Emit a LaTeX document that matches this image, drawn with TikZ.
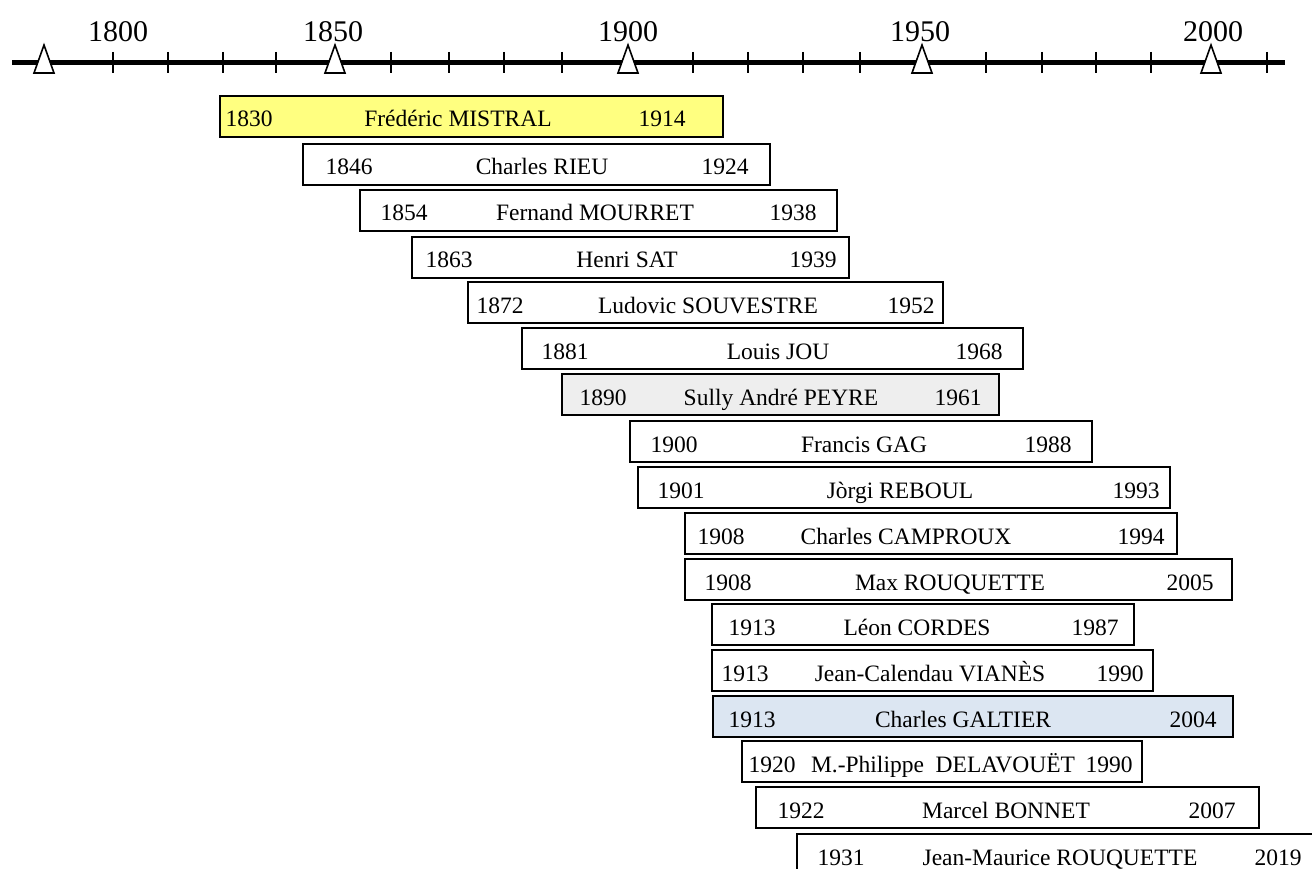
\documentclass[tikz,border=0pt]{standalone}
\usepackage{fontspec}
\setmainfont{Liberation Serif}
\definecolor{mistralyellow}{HTML}{FFFF80}
\definecolor{peyregray}{HTML}{EEEEEE}
\definecolor{galtierblue}{HTML}{DCE6F2}
\tikzset{
  lifebox/.style={draw=black, line width=1.1pt},
  lifetext/.style={anchor=base, inner sep=0pt, font=\fontsize{23.5}{28}\selectfont},
  yeartext/.style={anchor=base, inner sep=0pt, font=\fontsize{30}{36}\selectfont},
  axisline/.style={line width=5pt},
  tickmark/.style={line width=1.8pt},
  era/.style={draw=black, fill=white, line width=1.6pt, line join=miter}
}
\begin{document}
\begin{tikzpicture}[x=1pt,y=-1pt]
  \clip (0,0) rectangle (1312,869);
  \draw
    (118,42) node[yeartext] (y1800){1800}
    (333,42) node[yeartext] (y1850){1850}
    (628,42) node[yeartext] (y1900){1900}
    (920,42) node[yeartext] (y1950){1950}
    (1213,42) node[yeartext] (y2000){2000};
  \draw[axisline] (12,63) -- (1285,63);
  \draw[tickmark]
    (113,52) -- (113,73) (168,52) -- (168,73) (223,52) -- (223,73) (276,52) -- (276,73)
    (391,52) -- (391,73) (449,52) -- (449,73) (504,52) -- (504,73) (562,52) -- (562,73)
    (693,52) -- (693,73) (748,52) -- (748,73) (803,52) -- (803,73) (860,52) -- (860,73)
    (986,52) -- (986,73) (1042,52) -- (1042,73) (1096,52) -- (1096,73) (1151,52) -- (1151,73)
    (1267,52) -- (1267,73);
  \draw[era] (44,45) -- (34,73) -- (54,73) -- cycle;
  \draw[era] (335,45) -- (325,73) -- (345,73) -- cycle;
  \draw[era] (628,45) -- (618,73) -- (638,73) -- cycle;
  \draw[era] (922,45) -- (912,73) -- (932,73) -- cycle;
  \draw[era] (1211,45) -- (1201,73) -- (1221,73) -- cycle;
  % one box per author: birth, name, death
  \draw[lifebox, fill=mistralyellow] (220,96) rectangle (723,137)
    (249,127) node[lifetext] (mistralb){1830}
    (458,127) node[lifetext] (mistral){Frédéric MISTRAL}
    (662,127) node[lifetext] (mistrald){1914};
  \draw[lifebox] (303,144) rectangle (770,185)
    (349,175) node[lifetext] (rieub){1846}
    (542,175) node[lifetext] (rieu){Charles RIEU}
    (725,175) node[lifetext] (rieud){1924};
  \draw[lifebox] (360,190) rectangle (837,231)
    (404,221) node[lifetext] (mourretb){1854}
    (595,221) node[lifetext] (mourret){Fernand MOURRET}
    (793,221) node[lifetext] (mourretd){1938};
  \draw[lifebox] (412,237) rectangle (849,278)
    (449,268) node[lifetext] (satb){1863}
    (627,268) node[lifetext] (sat){Henri SAT}
    (813,268) node[lifetext] (satd){1939};
  \draw[lifebox] (468,282) rectangle (943,323)
    (500,313) node[lifetext] (souvestreb){1872}
    (708,313) node[lifetext] (souvestre){Ludovic SOUVESTRE}
    (911,313) node[lifetext] (souvestred){1952};
  \draw[lifebox] (522,328) rectangle (1023,369)
    (565,359) node[lifetext] (joub){1881}
    (778,359) node[lifetext] (jou){Louis JOU}
    (979,359) node[lifetext] (joud){1968};
  \draw[lifebox, fill=peyregray] (562,374) rectangle (999,415)
    (603,405) node[lifetext] (peyreb){1890}
    (781,405) node[lifetext] (peyre){Sully André PEYRE}
    (958,405) node[lifetext] (peyred){1961};
  \draw[lifebox] (630,421) rectangle (1092,462)
    (674,452) node[lifetext] (gagb){1900}
    (864,452) node[lifetext] (gag){Francis GAG}
    (1048,452) node[lifetext] (gagd){1988};
  \draw[lifebox] (638,467) rectangle (1170,508)
    (681,498) node[lifetext] (reboulb){1901}
    (900,498) node[lifetext] (reboul){Jòrgi REBOUL}
    (1136,498) node[lifetext] (rebould){1993};
  \draw[lifebox] (685,513) rectangle (1177,554)
    (721,544) node[lifetext] (camprouxb){1908}
    (906,544) node[lifetext] (camproux){Charles CAMPROUX}
    (1141,544) node[lifetext] (camprouxd){1994};
  \draw[lifebox] (685,559) rectangle (1232,600)
    (728,590) node[lifetext] (maxb){1908}
    (950,590) node[lifetext] (max){Max ROUQUETTE}
    (1190,590) node[lifetext] (maxd){2005};
  \draw[lifebox] (712,604) rectangle (1134,645)
    (752,635) node[lifetext] (cordesb){1913}
    (917,635) node[lifetext] (cordes){Léon CORDES}
    (1095,635) node[lifetext] (cordesd){1987};
  \draw[lifebox] (712,650) rectangle (1153,691)
    (745,681) node[lifetext] (vianesb){1913}
    (930,681) node[lifetext] (vianes){Jean-Calendau VIANÈS}
    (1120,681) node[lifetext] (vianesd){1990};
  \draw[lifebox, fill=galtierblue] (713,696) rectangle (1233,737)
    (752,727) node[lifetext] (galtierb){1913}
    (963,727) node[lifetext] (galtier){Charles GALTIER}
    (1193,727) node[lifetext] (galtierd){2004};
  \draw[lifebox] (742,741) rectangle (1142,782)
    (772,772) node[lifetext] (delavouetb){1920}
    (943,772) node[lifetext] (delavouet){M.-Philippe\ \ DELAVOUËT}
    (1109,772) node[lifetext] (delavouetd){1990};
  \draw[lifebox] (756,787) rectangle (1259,828)
    (801,818) node[lifetext] (bonnetb){1922}
    (1006,818) node[lifetext] (bonnet){Marcel BONNET}
    (1212,818) node[lifetext] (bonnetd){2007};
  \draw[lifebox] (797,834) rectangle (1330,890)
    (841,865) node[lifetext] (jmrb){1931}
    (1060,865) node[lifetext] (jmr){Jean-Maurice ROUQUETTE}
    (1278,865) node[lifetext] (jmrd){2019};
\end{tikzpicture}
\end{document}
